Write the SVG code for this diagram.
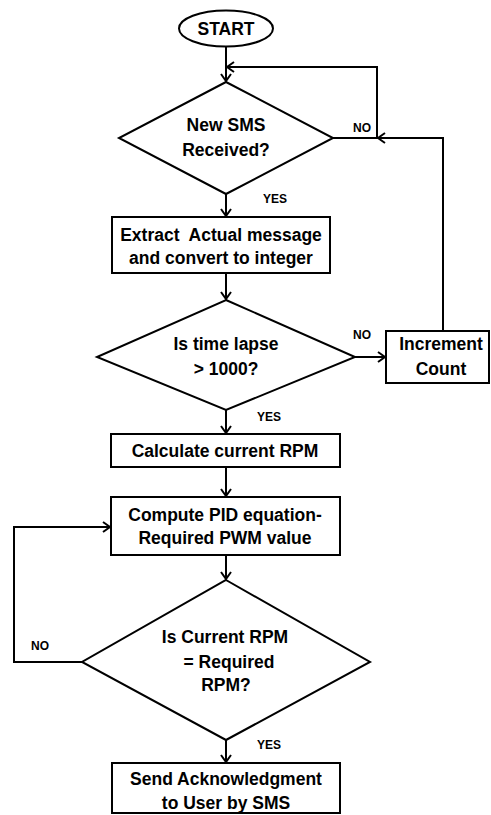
<svg xmlns="http://www.w3.org/2000/svg" width="491" height="815" viewBox="0 0 491 815">
<style>
.s{fill:#fff;stroke:#000;stroke-width:2}
.t{font-family:"Liberation Sans",Arial,sans-serif;font-weight:bold;font-size:17.5px;text-anchor:middle;fill:#000}
.l{font-family:"Liberation Sans",Arial,sans-serif;font-weight:bold;font-size:12px;text-anchor:middle;fill:#000}
.c{fill:none;stroke:#000;stroke-width:2}
</style>
<defs>
<marker id="a" markerUnits="userSpaceOnUse" markerWidth="12" markerHeight="12" refX="10" refY="6" orient="auto">
<polyline points="3,1 10,6 3,11" fill="none" stroke="#000" stroke-width="2"/>
</marker>
</defs>
<rect width="491" height="815" fill="#fff"/>
<g id="connectors">
<path class="c" d="M226,47V81" marker-end="url(#a)"/>
<path class="c" d="M333,138H377V67H227" marker-end="url(#a)"/>
<path class="c" d="M443,330V138H378" marker-end="url(#a)"/>
<path class="c" d="M226,194V216" marker-end="url(#a)"/>
<path class="c" d="M226,273V299" marker-end="url(#a)"/>
<path class="c" d="M355,357H385" marker-end="url(#a)"/>
<path class="c" d="M226,410V433" marker-end="url(#a)"/>
<path class="c" d="M226,467V496" marker-end="url(#a)"/>
<path class="c" d="M226,555V579" marker-end="url(#a)"/>
<path class="c" d="M82,662H14V527H110" marker-end="url(#a)"/>
<path class="c" d="M226,740V762" marker-end="url(#a)"/>
<text class="l" x="362" y="132">NO</text>
<text class="l" x="275" y="203">YES</text>
<text class="l" x="362" y="339">NO</text>
<text class="l" x="269" y="421">YES</text>
<text class="l" x="40" y="650">NO</text>
<text class="l" x="269" y="749">YES</text>
</g>
<g id="start">
<ellipse class="s" cx="226" cy="28.5" rx="47" ry="18"/>
<text class="t" x="226" y="35">START</text>
</g>
<g id="newsms">
<polygon class="s" points="226,82 333,138 226,194 119,138"/>
<text class="t" x="226" y="131">New SMS</text>
<text class="t" x="226" y="156">Received?</text>
</g>
<g id="extract">
<rect class="s" x="112" y="217" width="218" height="56"/>
<text class="t" x="221" y="241" xml:space="preserve">Extract  Actual message</text>
<text class="t" x="221" y="264">and convert to integer</text>
</g>
<g id="timelapse">
<polygon class="s" points="226,300 355,357 226,410 97,357"/>
<text class="t" x="226" y="350">Is time lapse</text>
<text class="t" x="226" y="375">&gt; 1000?</text>
</g>
<g id="increment">
<rect class="s" x="386" y="331" width="103" height="52"/>
<text class="t" x="441" y="350">Increment</text>
<text class="t" x="441" y="375">Count</text>
</g>
<g id="calc">
<rect class="s" x="111" y="434" width="229" height="33"/>
<text class="t" x="225" y="457">Calculate current RPM</text>
</g>
<g id="pid">
<rect class="s" x="111" y="497" width="229" height="58"/>
<text class="t" x="225" y="521">Compute PID equation-</text>
<text class="t" x="225" y="544">Required PWM value</text>
</g>
<g id="rpmcheck">
<polygon class="s" points="226,580 370,662 226,740 82,662"/>
<text class="t" x="225" y="643">Is Current RPM</text>
<text class="t" x="229" y="668">= Required</text>
<text class="t" x="226" y="691">RPM?</text>
</g>
<g id="send">
<rect class="s" x="112" y="763" width="228" height="50"/>
<text class="t" x="226" y="785">Send Acknowledgment</text>
<text class="t" x="226" y="809">to User by SMS</text>
</g>
</svg>
